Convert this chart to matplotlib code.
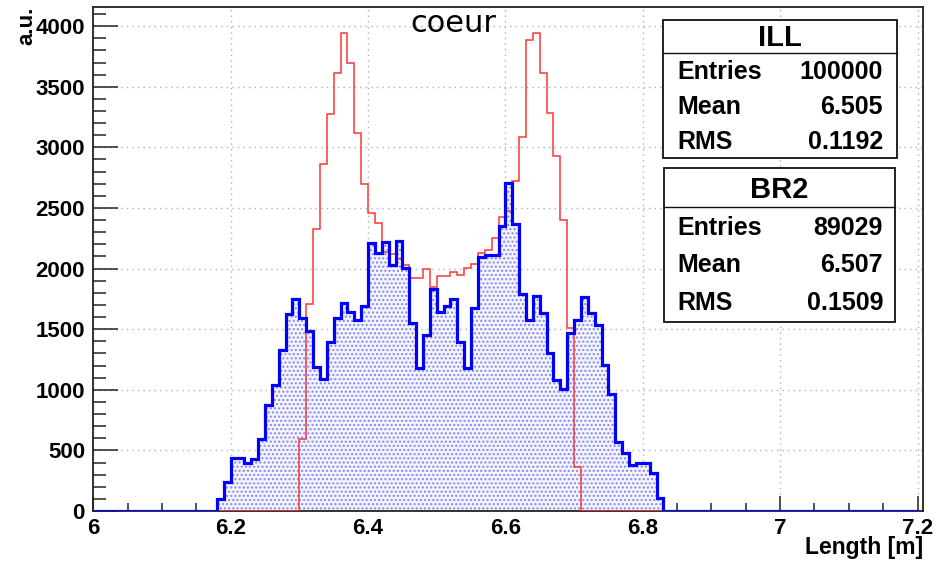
import numpy as np
import matplotlib
matplotlib.use("Agg")
import matplotlib.pyplot as plt
from matplotlib.patches import Rectangle
from matplotlib.lines import Line2D
from matplotlib.ticker import MultipleLocator, FuncFormatter

# ---------------- data ----------------
x_min, x_max, bin_width = 6.0, 7.2, 0.01

ill_start = 6.30
ill_counts = [597, 1708, 2330, 2864, 3275, 3611, 3945, 3699, 3116, 2700,
              2459, 2376, 2138, 2124, 2083, 2029, 1925, 1925, 1993, 1851,
              1938, 1938, 1974, 1947, 2001, 2034, 2125, 2152, 2256, 2426,
              2475, 2719, 3088, 3882, 3945, 3617, 3280, 2932, 2404, 1509,
              367]

br2_start = 6.18
br2_counts = [98, 240, 441, 441, 394, 427, 597, 873, 1043, 1331,
              1624, 1747, 1591, 1481, 1185, 1092, 1391, 1591, 1719, 1645,
              1577, 1692, 2212, 2130, 2219, 2029, 2229, 2001, 1550, 1180,
              1454, 1829, 1645, 1692, 1747, 1391, 1180, 1673, 2092, 2116,
              2116, 2352, 2705, 2371, 1791, 1572, 1774, 1632, 1303, 1079,
              1010, 1468, 1577, 1763, 1632, 1536, 1202, 969, 569, 476,
              378, 400, 400, 312, 104]

stats_titles = ["ILL", "BR2"]
stats_labels = ["Entries", "Mean", "RMS"]
stats_values = [["100000", "6.505", "0.1192"],
                ["89029", "6.507", "0.1509"]]

title_text = "coeur"
x_label = "Length [m]"
y_label = "a.u."

# ---------------- helpers ----------------
W, H = 934, 565
n_bins = int(round((x_max - x_min) / bin_width))
edges = x_min + bin_width * np.arange(n_bins + 1)


def full_hist(start, counts):
    vals = np.zeros(n_bins)
    i0 = int(round((start - x_min) / bin_width))
    vals[i0:i0 + len(counts)] = counts
    return vals


ill_vals = full_hist(ill_start, ill_counts)
br2_vals = full_hist(br2_start, br2_counts)


def fx(px):
    return px / W


def fy(py):
    return 1 - py / H


plt.rcParams['hatch.linewidth'] = 1.0
bold = dict(family='Liberation Sans', weight='bold')

fig = plt.figure(figsize=(W / 100, H / 100), dpi=100)
ax_l, ax_r, ax_t, ax_b = 93.3, 923, 7, 511
ax = fig.add_axes([fx(ax_l), fy(ax_b), fx(ax_r) - fx(ax_l), fy(ax_t) - fy(ax_b)])

# blue fill (dotted pattern)
ax.stairs(br2_vals, edges, fill=True, facecolor='#f3f4fe', edgecolor='#8585f4',
          hatch='....', linewidth=0, zorder=2)
# red histogram
ax.stairs(ill_vals, edges, color='#ff3535', linewidth=1.1, zorder=3)
# blue outline
ax.stairs(br2_vals, edges, color='#0000ff', linewidth=2.3, zorder=4)

ax.set_xlim(x_min, 7.208)
ax.set_ylim(0, 4158)

ax.xaxis.set_major_locator(MultipleLocator(0.2))
ax.xaxis.set_minor_locator(MultipleLocator(0.05))
ax.yaxis.set_major_locator(MultipleLocator(500))
ax.yaxis.set_minor_locator(MultipleLocator(100))
ax.xaxis.set_major_formatter(FuncFormatter(lambda v, p: f"{v:g}"))
ax.yaxis.set_major_formatter(FuncFormatter(lambda v, p: f"{v:g}"))

ax.tick_params(axis='x', which='major', direction='in', length=11, width=1.1,
               pad=5, labelsize=16, color='#222222')
ax.tick_params(axis='x', which='minor', direction='in', length=5.5, width=1.1,
               color='#222222')
ax.tick_params(axis='y', which='major', direction='in', length=18, width=1.1,
               pad=6, labelsize=16, color='#222222')
ax.tick_params(axis='y', which='minor', direction='in', length=9, width=1.1,
               color='#222222')
for lab in ax.get_xticklabels() + ax.get_yticklabels():
    lab.set_fontfamily('Liberation Sans')
    lab.set_fontweight('bold')

ax.grid(True, which='major', linestyle=(0, (1, 3)), color='#a8b2be',
        linewidth=1.0, zorder=1)
ax.set_axisbelow(True)
for s in ax.spines.values():
    s.set_linewidth(1.3)
    s.set_color('#222222')

# axis labels
fig.text(fx(923), fy(554), x_label, ha='right', va='baseline', fontsize=16.5, **bold)
fig.text(fx(27), fy(7), y_label, ha='center', va='top', rotation=90, fontsize=16, **bold)

# title inside frame
fig.text(fx(453), fy(24), title_text, ha='center', va='center', fontsize=22,
         family='DejaVu Sans')

# stats boxes
boxes = [
    dict(x0=663, x1=897, y0=20, y1=158, sep=53, ty=38, rows=[72, 107, 142]),
    dict(x0=664, x1=895, y0=168, y1=322, sep=207, ty=190, rows=[228, 265, 303]),
]
for b, title, vals in zip(boxes, stats_titles, stats_values):
    fig.add_artist(Rectangle((fx(b['x0']), fy(b['y1'])), fx(b['x1']) - fx(b['x0']),
                             fy(b['y0']) - fy(b['y1']), transform=fig.transFigure,
                             facecolor='white', edgecolor='#111111', linewidth=1.3,
                             zorder=10))
    fig.add_artist(Line2D([fx(b['x0']), fx(b['x1'])], [fy(b['sep'])] * 2,
                          transform=fig.transFigure, color='#111111',
                          linewidth=1.0, zorder=11))
    fig.text(fx((b['x0'] + b['x1']) / 2), fy(b['ty']), title, ha='center',
             va='center', fontsize=21, zorder=12, **bold)
    for lab, val, ry in zip(stats_labels, vals, b['rows']):
        fig.text(fx(677), fy(ry), lab, ha='left', va='center', fontsize=18,
                 zorder=12, **bold)
        fig.text(fx(883), fy(ry), val, ha='right', va='center', fontsize=18,
                 zorder=12, **bold)

fig.savefig("out.png", dpi=100)
